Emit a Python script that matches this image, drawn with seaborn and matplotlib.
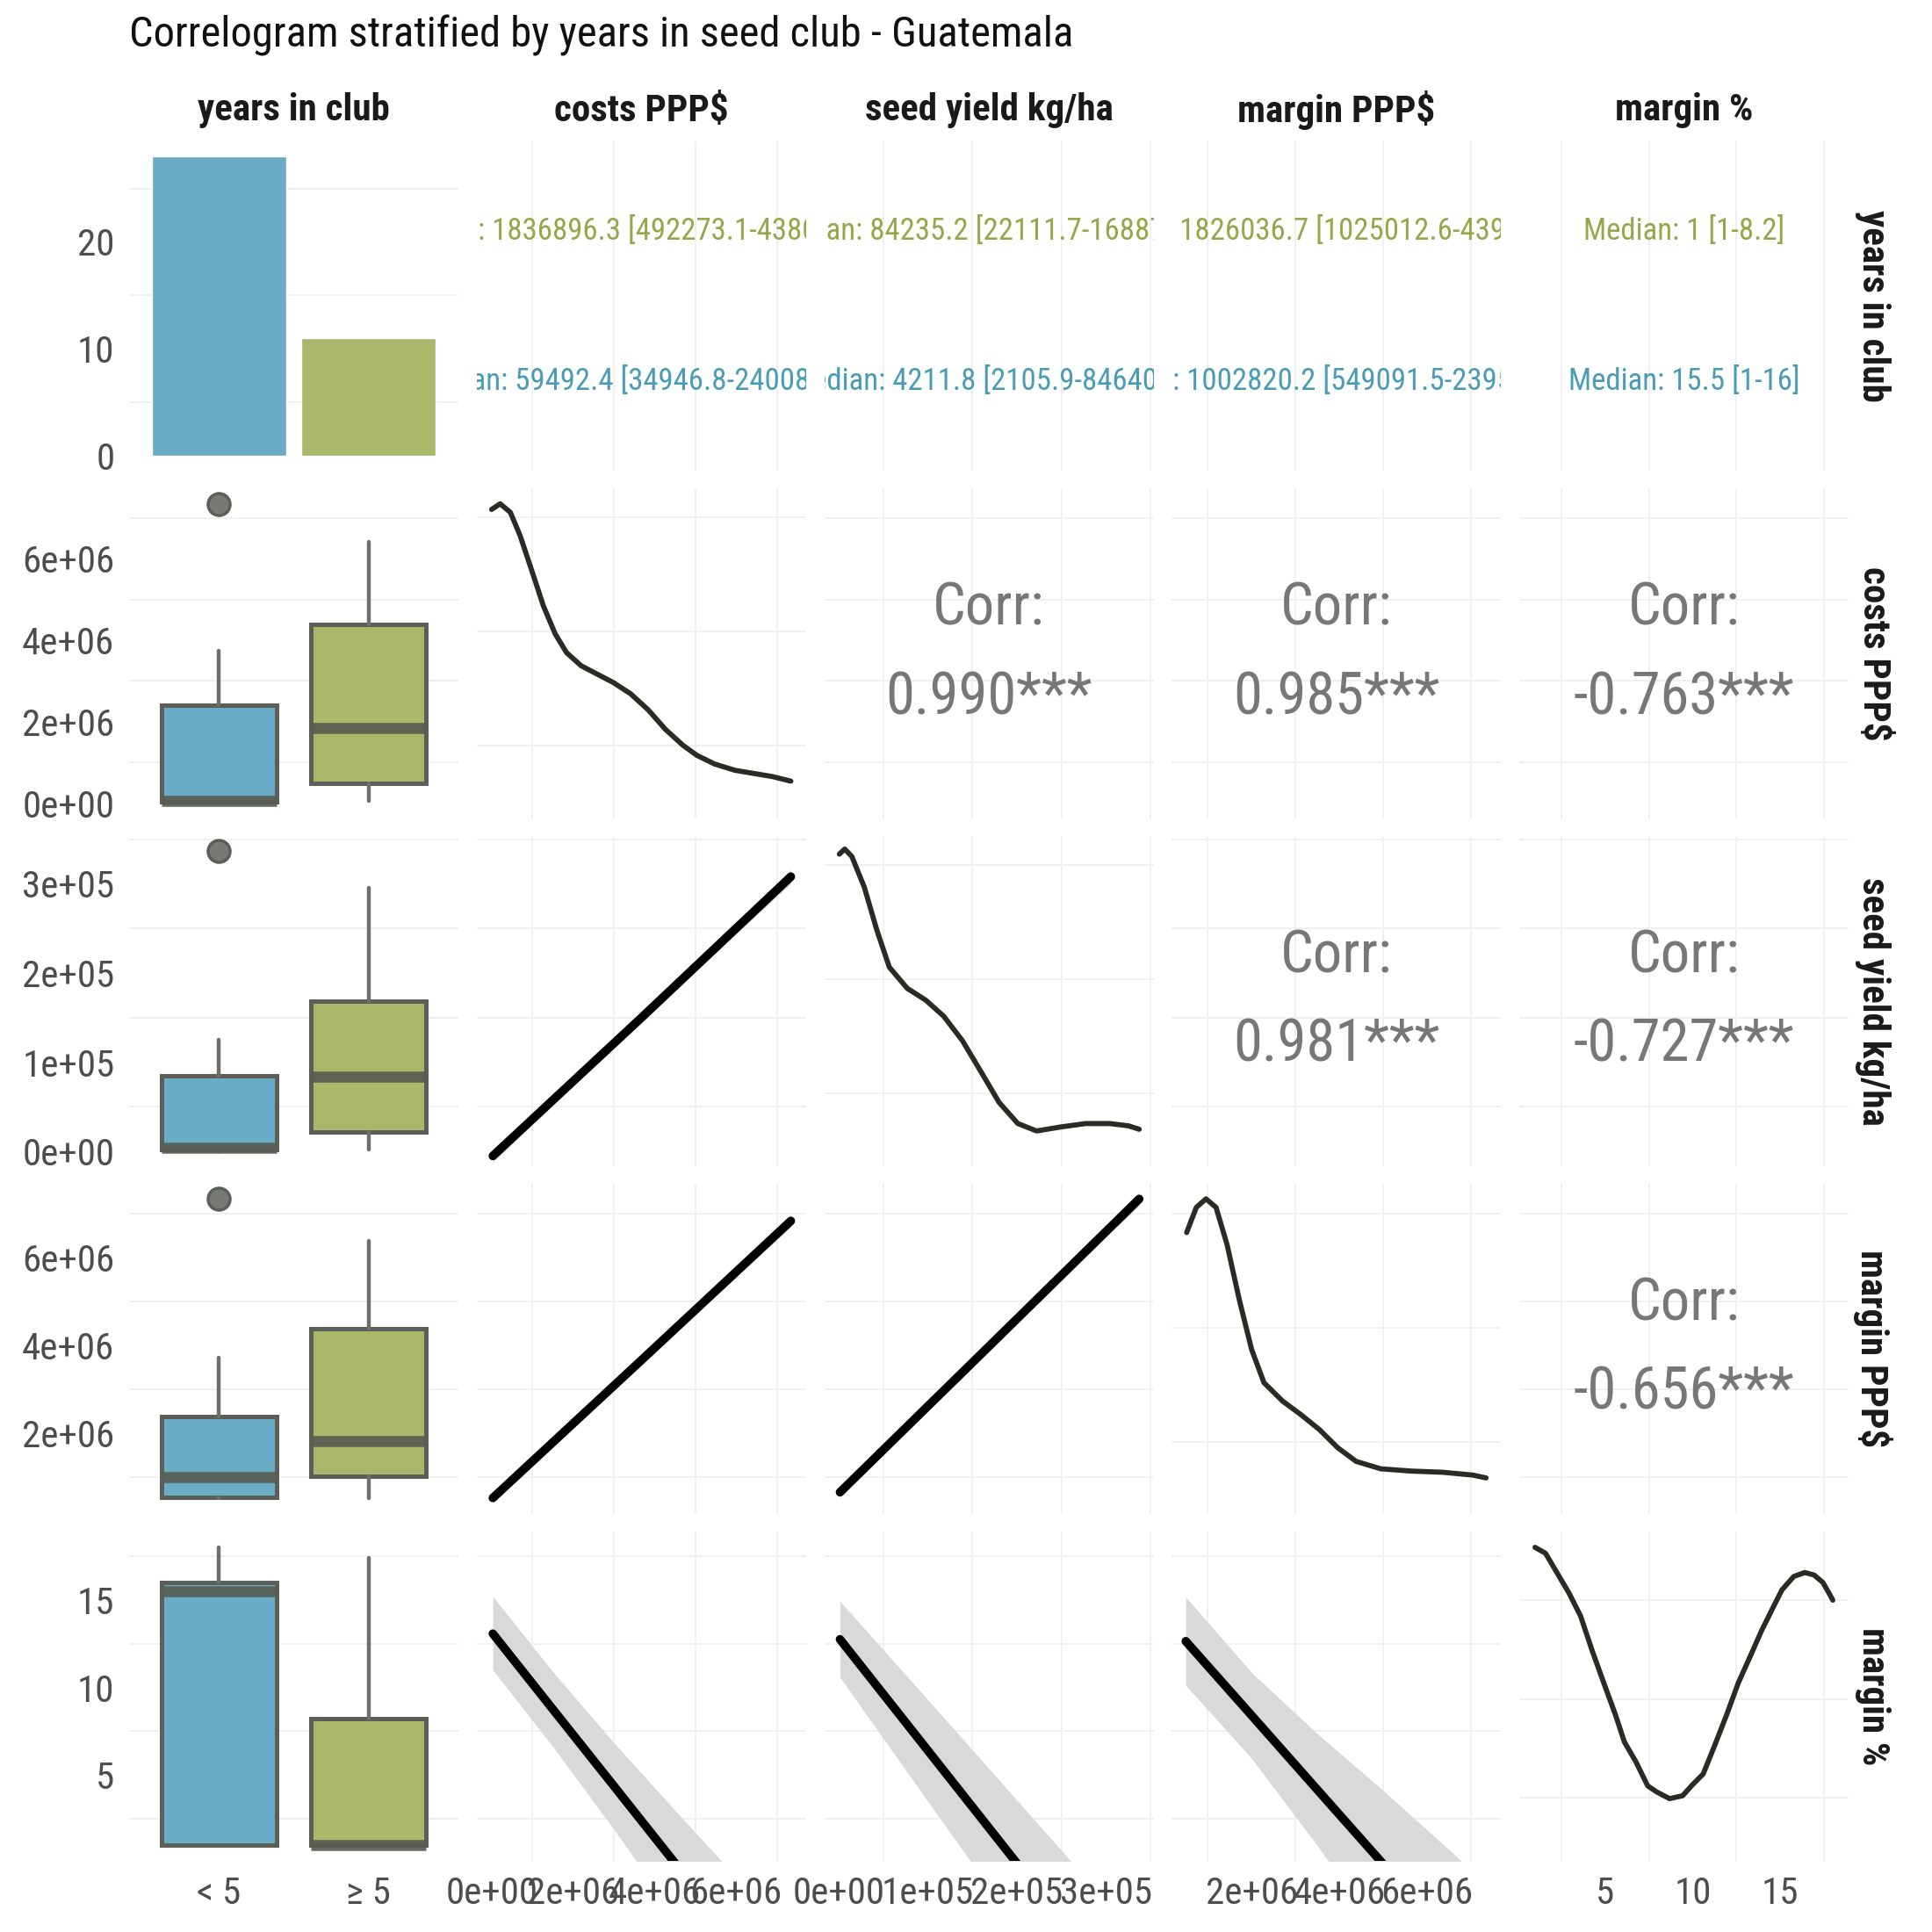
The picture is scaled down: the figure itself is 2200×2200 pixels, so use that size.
import numpy as np
import pandas as pd
import seaborn as sns
import matplotlib.pyplot as plt
from matplotlib import font_manager

sns.set_theme(style="white")
installed = {f.name for f in font_manager.fontManager.ttflist}
fam = "Roboto Condensed" if "Roboto Condensed" in installed else "Roboto"
plt.rcParams["font.family"] = [fam, "DejaVu Sans"]

# ---------------- data ----------------
groups = ["< 5", "\u2265 5"]
group_counts = [28, 11]
group_colors = ["#6aabc5", "#a9b76b"]
text_colors = ["#4a9bb6", "#97a64a"]

variables = ["club", "costs", "seed", "mppp", "mpct"]
var_labels = ["years in club", "costs PPP$", "seed yield kg/ha", "margin PPP$", "margin %"]

# units: costs and margin PPP$ in 1e6, seed yield in 1e5
median_lt5 = {
    "costs": "Median: 59492.4 [34946.8-2400843.7]",
    "seed": "Median: 4211.8 [2105.9-84640.6]",
    "mppp": "Median: 1002820.2 [549091.5-2395108.4]",
    "mpct": "Median: 15.5 [1-16]",
}
median_ge5 = {
    "costs": "Median: 1836896.3 [492273.1-4380617.2]",
    "seed": "Median: 84235.2 [22111.7-168873.4]",
    "mppp": "Median: 1826036.7 [1025012.6-4391288.5]",
    "mpct": "Median: 1 [1-8.2]",
}

corr_text = {
    ("costs", "seed"): "0.990***",
    ("costs", "mppp"): "0.985***",
    ("costs", "mpct"): "-0.763***",
    ("seed", "mppp"): "0.981***",
    ("seed", "mpct"): "-0.727***",
    ("mppp", "mpct"): "-0.656***",
}

# box stats: whislo, q1, med, q3, whishi, outliers
box_lt5 = {
    "costs": [0.03, 0.035, 0.059, 2.40, 3.75, [7.34]],
    "seed": [0.005, 0.021, 0.042, 0.846, 1.25, [3.37]],
    "mppp": [0.52, 0.549, 1.003, 2.395, 3.72, [7.34]],
    "mpct": [1, 1, 15.5, 16, 18.0, []],
}
box_ge5 = {
    "costs": [0.064, 0.492, 1.837, 4.38, 6.42, []],
    "seed": [0.02, 0.221, 0.842, 1.688, 2.95, []],
    "mppp": [0.52, 1.025, 1.826, 4.39, 6.39, []],
    "mpct": [1, 1, 1, 8.2, 17.4, []],
}

# density curves (y in relative units)
dens_x = {
    "costs": [0.0, 0.21, 0.46, 0.70, 0.99, 1.27, 1.56, 1.84, 2.20, 2.63, 2.98, 3.41, 3.84,
              4.26, 4.69, 5.04, 5.47, 5.97, 6.47, 6.89, 7.34],
    "seed": [0.01, 0.07, 0.15, 0.29, 0.43, 0.57, 0.77, 0.98, 1.18, 1.39, 1.60, 1.80, 2.01,
             2.22, 2.49, 2.77, 3.04, 3.25, 3.37],
    "mppp": [0.52, 0.74, 0.96, 1.19, 1.44, 1.72, 2.00, 2.28, 2.70, 3.12, 3.54, 3.96, 4.38,
             4.94, 5.64, 6.34, 7.04, 7.34],
    "mpct": [1.0, 1.6, 2.43, 2.93, 3.6, 4.27, 4.93, 5.6, 6.1, 6.77, 7.43, 7.93, 8.68, 9.43,
             9.93, 10.6, 11.27, 11.93, 12.6, 13.27, 13.93, 14.6, 15.1, 15.77, 16.4, 16.93,
             17.43, 17.77, 18.0],
}
dens_y = {
    "costs": [5.14, 5.24, 5.09, 4.68, 4.06, 3.45, 2.96, 2.63, 2.40, 2.24, 2.11, 1.91, 1.63,
              1.29, 1.01, 0.83, 0.68, 0.57, 0.51, 0.46, 0.38],
    "seed": [5.19, 5.28, 5.15, 4.61, 3.86, 3.21, 2.84, 2.63, 2.35, 1.92, 1.37, 0.84, 0.47,
             0.34, 0.41, 0.47, 0.47, 0.43, 0.37],
    "mppp": [4.67, 5.11, 5.26, 5.11, 4.46, 3.49, 2.62, 2.04, 1.72, 1.48, 1.22, 0.90, 0.66,
             0.53, 0.49, 0.47, 0.42, 0.37],
    "mpct": [6.07, 5.95, 5.45, 5.15, 4.68, 3.97, 3.32, 2.67, 2.13, 1.72, 1.24, 1.12, 0.98,
             1.04, 1.24, 1.48, 2.07, 2.67, 3.32, 3.85, 4.38, 4.86, 5.21, 5.48, 5.56, 5.51,
             5.36, 5.15, 5.00],
}

# linear fits with confidence band: (x, fit, lower, upper)
fits = {
    ("costs", "seed"): ([0.03, 3.7, 7.34], [-0.05, 1.51, 3.08],
                        [-0.12, 1.48, 3.00], [0.02, 1.54, 3.16]),
    ("costs", "mppp"): ([0.03, 3.7, 7.34], [0.53, 3.69, 6.84],
                        [0.41, 3.65, 6.70], [0.65, 3.75, 6.98]),
    ("seed", "mppp"): ([0.017, 1.7, 3.37], [0.66, 4.01, 7.34],
                       [0.54, 3.96, 7.19], [0.78, 4.06, 7.49]),
    ("costs", "mpct"): ([0.03, 1.5, 3.0, 4.5, 6.0, 7.34], [13.07, 8.76, 4.37, -0.03, -4.42, -8.35],
                        [11.0, 6.62, 1.9, -3.04, -8.03, -12.56], [15.2, 10.9, 6.84, 2.98, -0.81, -4.14]),
    ("seed", "mpct"): ([0.017, 1.0, 2.0, 3.0, 3.37], [12.75, 6.41, -0.04, -6.49, -8.88],
                       [10.58, 3.51, -3.64, -10.79, -13.43], [14.92, 9.31, 3.56, -2.19, -4.33]),
    ("mppp", "mpct"): ([0.5, 2.0, 3.5, 5.0, 6.75, 7.34], [12.64, 8.4, 4.15, -0.09, -5.04, -6.71],
                       [10.12, 5.95, 0.95, -4.29, -10.24, -12.31], [15.16, 10.85, 7.35, 4.11, 0.16, -1.11]),
}

tick_pos = {"club": [0, 10, 20], "costs": [0, 2, 4, 6], "seed": [0, 1, 2, 3],
            "mppp": [2, 4, 6], "mpct": [5, 10, 15]}
tick_lab = {"club": ["0", "10", "20"],
            "costs": ["0e+00", "2e+06", "4e+06", "6e+06"],
            "seed": ["0e+00", "1e+05", "2e+05", "3e+05"],
            "mppp": ["2e+06", "4e+06", "6e+06"],
            "mpct": ["5", "10", "15"]}

# ---------------- layout / style ----------------
lims = {"club": (-1.4, 29.4), "costs": (-0.367, 7.71), "seed": (-0.16, 3.53),
        "mppp": (0.18, 7.68), "mpct": (0.1, 18.9)}
minors = {"club": [5, 15, 25], "costs": [1, 3, 5, 7], "seed": [0.5, 1.5, 2.5, 3.5],
          "mppp": [1, 3, 5, 7], "mpct": [2.5, 7.5, 12.5, 17.5]}
dens_lim = {"costs": (-0.27, 5.50), "seed": (-0.27, 5.50), "mppp": (-0.25, 5.52),
            "mpct": (-0.28, 6.39)}

GRID = "#f0f0f0"
TICK = "#4d4d4d"
TICK_SIZE = 31
S = 2200.0
L, W, G = 147, 375, 20.75
T, H = 161, 375

fig = plt.figure(figsize=(22, 22), dpi=100)
fig.patch.set_facecolor("white")


def make_ax(i, j):
    x0 = L + j * (W + G)
    y0 = T + i * (H + G)
    ax = fig.add_axes([x0 / S, 1 - (y0 + H) / S, W / S, H / S])
    ax.set_facecolor("white")
    return ax


def finish(ax, i, j, xlim, ylim, xminor, yminor, xkey=None, ykey=None):
    ax.set_xlim(*xlim)
    ax.set_ylim(*ylim)
    ax.set_xlabel("")
    ax.set_ylabel("")
    for s in ax.spines.values():
        s.set_visible(False)
    ax.set_xticks(xminor, minor=True)
    ax.set_yticks(yminor, minor=True)
    if i == 4 and xkey is not None:
        ax.set_xticks(tick_pos[xkey], tick_lab[xkey])
    else:
        ax.set_xticks([])
    if j == 0 and ykey is not None:
        ax.set_yticks(tick_pos[ykey], tick_lab[ykey])
    else:
        ax.set_yticks([])
    ax.tick_params(which="both", length=0, labelsize=TICK_SIZE, labelcolor=TICK, pad=12)
    ax.grid(False, which="major")
    ax.grid(True, which="minor", color=GRID, linewidth=1.4)
    ax.set_axisbelow(True)


for i, rv in enumerate(variables):
    for j, cv in enumerate(variables):
        ax = make_ax(i, j)
        if i == 0 and j == 0:
            sns.barplot(x=groups, y=group_counts, hue=groups, palette=group_colors,
                        width=0.9, saturation=1, legend=False, ax=ax)
            finish(ax, i, j, (-0.6, 1.6), lims["club"], [], minors["club"], None, "club")
        elif i == 0:
            ax.text(0.5, 0.727, median_ge5[cv], transform=ax.transAxes, ha="center",
                    va="center", fontsize=25, color=text_colors[1], clip_on=True)
            ax.text(0.5, 0.273, median_lt5[cv], transform=ax.transAxes, ha="center",
                    va="center", fontsize=25, color=text_colors[0], clip_on=True)
            finish(ax, i, j, lims[cv], (0, 1), minors[cv], [], cv, None)
        elif j == 0:
            stats = []
            for b in (box_lt5[rv], box_ge5[rv]):
                stats.append(dict(whislo=b[0], q1=b[1], med=b[2], q3=b[3], whishi=b[4], fliers=b[5]))
            bp = ax.bxp(stats, positions=[1, 2], widths=0.77, patch_artist=True, showcaps=False,
                        boxprops=dict(linewidth=3.6, edgecolor="#5b5f58"),
                        whiskerprops=dict(color="#6d706a", linewidth=3.2),
                        medianprops=dict(color="#585c52", linewidth=9, solid_capstyle="butt", alpha=0.92),
                        flierprops=dict(marker="o", markersize=18, markerfacecolor="#777a73",
                                        markeredgecolor="#5c5f59", markeredgewidth=2.5))
            for patch, c in zip(bp["boxes"], group_colors):
                patch.set_facecolor(c)
            finish(ax, i, j, (0.4, 2.6), lims[rv], [], minors[rv], None, rv)
            if i == 4:
                ax.set_xticks([1, 2], groups)
                ax.tick_params(which="both", length=0, labelsize=TICK_SIZE, labelcolor=TICK, pad=12)
        elif i == j:
            sns.lineplot(x=dens_x[cv], y=dens_y[cv], color="#2b2b26", linewidth=4.2, ax=ax,
                         solid_joinstyle="round", solid_capstyle="round")
            finish(ax, i, j, lims[cv], dens_lim[cv], minors[cv], [1, 3, 5], cv, None)
        elif j > i:
            ax.text(0.5, 0.5, "Corr:\n" + corr_text[(rv, cv)], transform=ax.transAxes,
                    ha="center", va="center", fontsize=48, color="#777777", linespacing=1.75)
            finish(ax, i, j, lims[cv], lims[rv], minors[cv], minors[rv], cv, None)
        else:
            fx, fy, lo, hi = fits[(cv, rv)]
            ax.fill_between(fx, lo, hi, color="#d9d9d9", linewidth=0)
            sns.lineplot(x=fx, y=fy, color="black", linewidth=7, ax=ax)
            finish(ax, i, j, lims[cv], lims[rv], minors[cv], minors[rv], cv, None)

# strips
for j, lab in enumerate(var_labels):
    xc = (L + j * (W + G) + W / 2) / S
    fig.text(xc, 1 - 126 / S, lab, ha="center", va="center", fontsize=31,
             fontweight="bold", color="#1a1a1a")
for i, lab in enumerate(var_labels):
    yc = 1 - (T + i * (H + G) + H / 2) / S
    fig.text(2133 / S, yc, lab, ha="center", va="center", rotation=-90, fontsize=31,
             fontweight="bold", color="#1a1a1a")

fig.text(L / S, 1 - 40 / S, "Correlogram stratified by years in seed club - Guatemala",
         ha="left", va="center", fontsize=35, color="#111111")

fig.savefig("out.png", dpi=100, facecolor="white")
